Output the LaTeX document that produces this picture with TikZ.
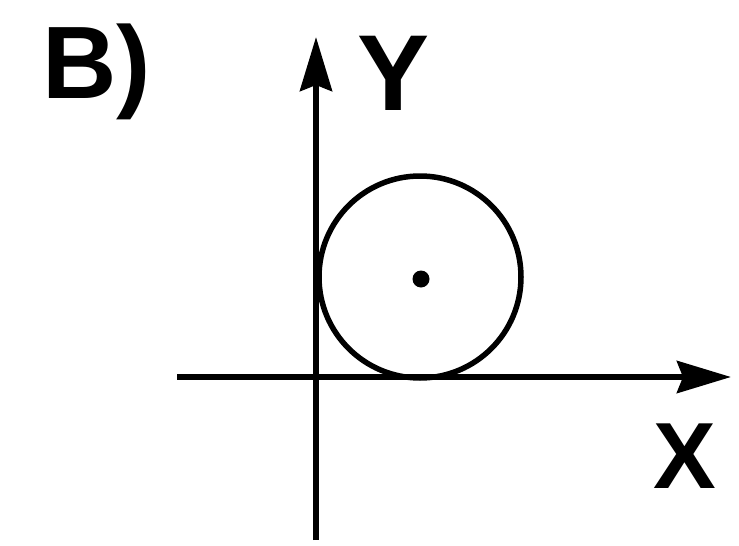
\documentclass[tikz,border=0pt]{standalone}
\usepackage{fontspec}
\setmainfont{Liberation Sans}
\usetikzlibrary{arrows.meta}
\begin{document}
\begin{tikzpicture}[x=1pt,y=-1pt,
  axisline/.style={line width=6pt,-{Stealth[length=54pt,width=32pt,inset=6pt]}},
  bigtext/.style={inner sep=0pt,font=\bfseries\fontsize{108}{108}\selectfont},
  curve/.style={line width=5.5pt}]
\useasboundingbox (0,0) rectangle (739,546);
\coordinate (xl) at (177,377);
\coordinate (xr) at (731,377);
\coordinate (yb) at (316,540);
\coordinate (yt) at (316,37);
\draw[axisline] (xl) -- (xr);
\draw[axisline] (yb) -- (yt);
\node[curve,draw,circle,minimum size=202pt,inner sep=0pt] (circ) at (420,277) {};
\node[fill,circle,minimum size=17pt,inner sep=0pt] (ctr) at (421,279) {};
\node[bigtext,anchor=base west,font=\bfseries\fontsize{103}{103}\selectfont] (lbl) at (42,98) {B)};
\node[bigtext,anchor=base] (ylab) at (394,110) {Y};
\node[bigtext,anchor=base,font=\bfseries\fontsize{94}{94}\selectfont] (xlab) at (685,488) {X};
\end{tikzpicture}
\end{document}
